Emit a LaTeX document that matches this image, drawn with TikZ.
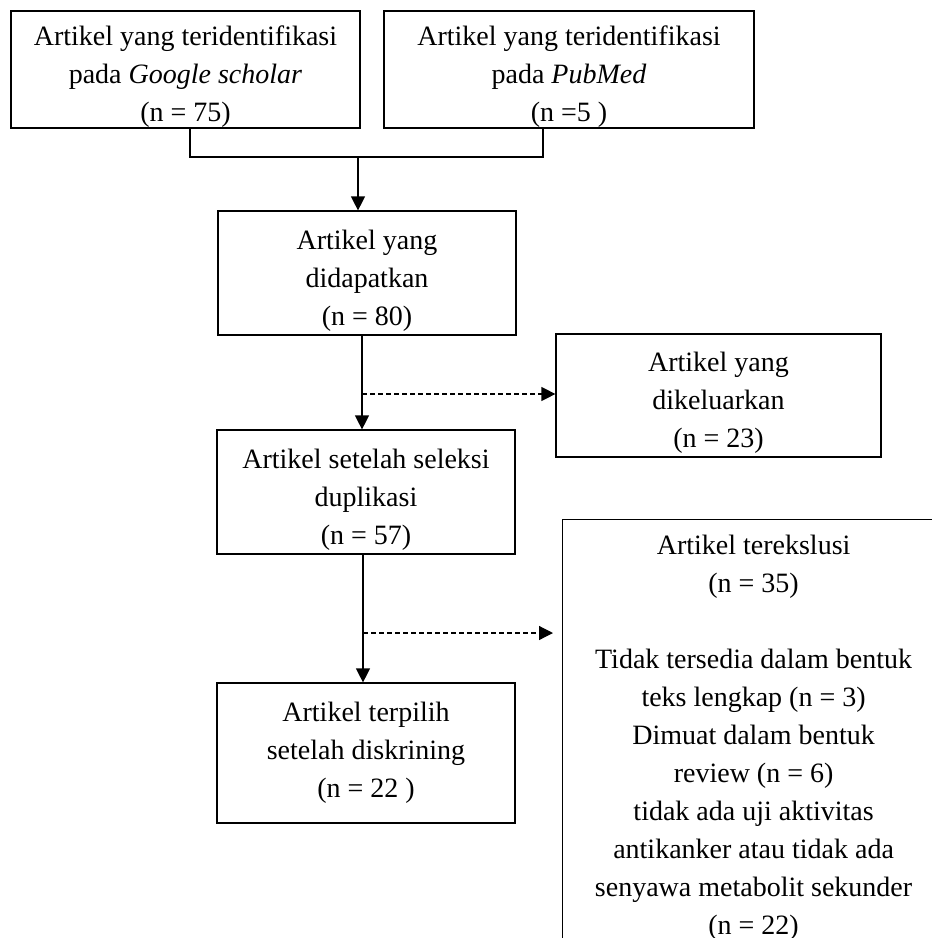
\documentclass[tikz,border=0pt]{standalone}
\usepackage{fontspec}
\setmainfont{Liberation Serif}
\usepackage{tikz}
\usetikzlibrary{arrows.meta,calc}

\newcommand{\toplift}{\rule{0pt}{17pt}}
\tikzset{
	box/.style={draw,line width=0.6pt,align=center,inner sep=0pt,
		font=\fontsize{14}{19}\selectfont},
	arr/.style={line width=0.6pt,-{Triangle[length=7pt,width=7pt]}},
	darr/.style={arr,dash pattern=on 2.5pt off 1.5pt}
}

\begin{document}
\begin{tikzpicture}[x=0.5pt,y=-0.5pt]
		\clip (0,0) rectangle (932,938);
		\node[box,minimum width=174.5pt,minimum height=58.5pt] (gs) at (185.5,69.5)
		{\toplift Artikel yang teridentifikasi\\ pada \textit{Google scholar}\\ (n = 75)};
		\node[box,minimum width=185pt,minimum height=58.5pt] (pm) at (569,69.5)
		{\toplift Artikel yang teridentifikasi\\ pada \textit{PubMed}\\ (n =5 )};
		\node[box,minimum width=149pt,minimum height=62pt] (found) at (367,273)
		{\toplift Artikel yang\\ didapatkan\\ (n = 80)};
		\node[box,minimum width=162.5pt,minimum height=61.5pt] (out) at (718.5,395.5)
		{\toplift Artikel yang\\ dikeluarkan\\ (n = 23)};
		\node[box,minimum width=149pt,minimum height=62pt] (dup) at (366,492)
		{\toplift Artikel setelah seleksi\\ duplikasi\\ (n = 57)};
		\node[box,minimum width=149pt,minimum height=70pt] (sel) at (366,753)
		{Artikel terpilih\\ setelah diskrining\\ (n = 22 )};
		\node[box,anchor=north west,minimum width=191pt,inner ysep=7.5pt] (excl) at (562,519)
		{Artikel terekslusi\\ (n = 35)\\[19pt]
			Tidak tersedia dalam bentuk\\ teks lengkap (n = 3)\\
			Dimuat dalam bentuk\\ review (n = 6)\\
			tidak ada uji aktivitas\\ antikanker atau tidak ada\\
			senyawa metabolit sekunder\\ (n = 22)\\ \strut};

		\coordinate (j) at (358,157);
		\coordinate (s1) at (362,394);
		\coordinate (s2) at (363,633);
		\draw[line width=0.6pt] ([xshift=2.25pt]gs.south) |- (j) -| ([xshift=-13pt]pm.south);
		\draw[arr] (j) -- (found.north -| j);
		\draw[arr] (found.south -| s1) -- (dup.north -| s1);
		\draw[darr] (s1) -- (out.west |- s1);
		\draw[arr] (dup.south -| s2) -- (sel.north -| s2);
		\draw[darr,shorten >=4.5pt] (s2) -- (excl.west |- s2);
	\end{tikzpicture}
\end{document}
